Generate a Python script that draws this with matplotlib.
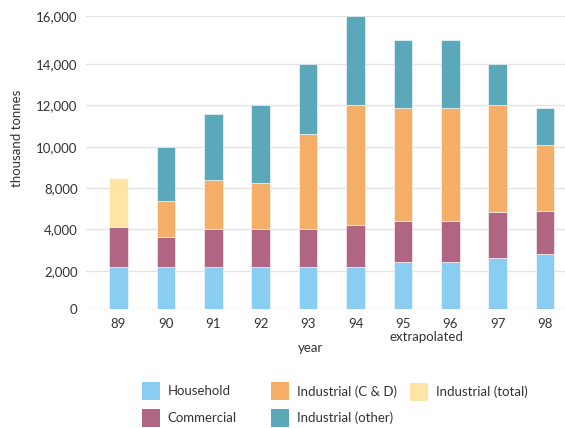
import numpy as np
import matplotlib
matplotlib.use("Agg")
import matplotlib.pyplot as plt
from matplotlib.patches import Rectangle
from matplotlib.ticker import FuncFormatter

plt.rcParams['font.family'] = ['Lato', 'DejaVu Sans']

years = ['89', '90', '91', '92', '93', '94', '95', '96', '97', '98']
household = [2200, 2200, 2200, 2200, 2200, 2200, 2400, 2400, 2600, 2800]
commercial = [2000, 1450, 1800, 1800, 1800, 2200, 2400, 2400, 3050, 2950]
industrial_cd = [0, 3050, 4400, 4250, 6600, 7600, 7050, 7050, 6350, 4350]
industrial_other = [0, 3300, 3200, 3750, 3400, 4000, 3150, 3150, 2000, 1750]
industrial_total = [4300, 0, 0, 0, 0, 0, 0, 0, 0, 0]

tick_values = [0, 2000, 4000, 8000, 10000, 12000, 14000, 16000]
# visual heights of the (unevenly spaced) tick marks on the original axis
tick_heights = [0, 38, 79.4, 120.8, 162, 203.4, 245, 293]

series_names = ['Household', 'Commercial', 'Industrial (C & D)', 'Industrial (other)', 'Industrial (total)']
colors = ['#89CDF3', '#B06682', '#F4AE68', '#5BA8BB', '#FFE4A6']

def fwd(v):
    return np.interp(v, tick_values, tick_heights)

def inv(h):
    return np.interp(h, tick_heights, tick_values)

W, H = 565, 428
FS = 9.5
fig = plt.figure(figsize=(W / 100, H / 100), dpi=100)
ax_left, ax_right, ax_top, ax_bot = 86, 565, 15.7, 308.7
ax = fig.add_axes([ax_left / W, 1 - ax_bot / H, (ax_right - ax_left) / W, (ax_bot - ax_top) / H])
ax.set_yscale('function', functions=(fwd, inv))

x = np.arange(len(years))
bw = 0.39
series = [household, commercial, industrial_cd, industrial_other, industrial_total]
bottom = np.zeros(len(years))
for vals, c in zip(series, colors):
    v = np.array(vals, dtype=float)
    mask = v > 0
    ax.bar(x[mask], v[mask], bw, bottom=bottom[mask], color=c, edgecolor='#ffffff',
           linewidth=0.4, zorder=3)
    bottom = bottom + v

ax.set_ylim(0, 16000)
ax.set_xlim(-0.686, 9.42)
ax.set_yticks(tick_values)
ax.yaxis.set_major_formatter(FuncFormatter(lambda v, p: f"{int(round(v)):,}"))
ax.set_xticks(x)
ax.set_xticklabels(years)
ax.grid(axis='y', color='#e3e3e3', linewidth=1, zorder=0)
for s in ax.spines.values():
    s.set_visible(False)
ax.tick_params(axis='both', length=0, labelsize=FS, colors='#333333')
ax.tick_params(axis='x', pad=7)
ax.tick_params(axis='y', pad=6)

txt = '#333333'
fig.text(17.5 / W, 1 - 138 / H, 'thousand tonnes', rotation=90, ha='center', va='center',
         fontsize=FS, color=txt)
fig.text(310 / W, 1 - 348 / H, 'year', ha='center', va='center', fontsize=FS, color=txt)
fig.text(426 / W, 1 - 337 / H, 'extrapolated', ha='center', va='center', fontsize=FS, color=txt)

# legend (laid out as in the original)
leg_pos = [(141.7, 382.3), (141.7, 409), (271, 382.3), (271, 409), (410, 383)]
for (px, py), name, c in zip(leg_pos, series_names, colors):
    fig.patches.append(Rectangle((px / W, 1 - (py + 17.7) / H), 18 / W, 17.7 / H,
                                 transform=fig.transFigure, facecolor=c, edgecolor='none'))
    fig.text((px + 26) / W, 1 - (py + 9) / H, name, ha='left', va='center',
             fontsize=FS, color=txt)

fig.savefig('out.png', dpi=100)
